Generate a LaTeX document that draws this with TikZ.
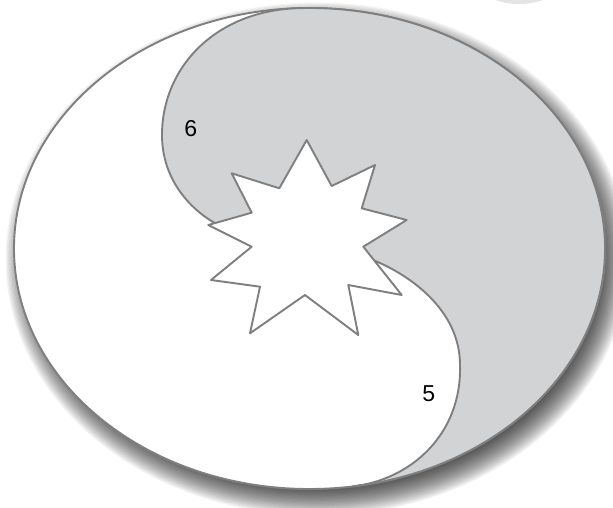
\documentclass[tikz,border=0pt]{standalone}
\usepackage{fontspec}
\setmainfont{Liberation Sans}
\definecolor{rimgray}{HTML}{7F7F80}
\definecolor{lobegray}{HTML}{D2D3D5}
\definecolor{ghostgray}{HTML}{E4E4E6}
\tikzset{
  rim/.style={draw=rimgray, line width=1.9pt, line join=round},
  numlabel/.style={font=\fontsize{23}{23}\selectfont, text=black, inner sep=0pt}
}
\begin{document}
\begin{tikzpicture}[x=1pt,y=1pt]
\useasboundingbox (0,0) rectangle (613,-507);
% partial light circle at top right
\fill[ghostgray] (519,70) circle[radius=74];
\coordinate (C) at (309.5,-248.5);
\coordinate (S) at (317,-259);
% soft shadow
\foreach \i in {0,...,24} {
  \fill[black, opacity=0.047] (S) ellipse[x radius={295.5+16-1.3*\i}, y radius={240.5+16-1.3*\i}];
}
% outer ellipse
\draw[rim, fill=white] (C) ellipse[x radius=295.5, y radius=240.5];
% gray lobe
\path (C) ++(91.84:295.5 and 240.5) coordinate (T);
\path[fill=lobegray] (T) arc[start angle=91.84, end angle=-81.6, x radius=295.5, y radius=240.5] coordinate (B)
  .. controls (410,-480) and (462,-435) .. (460,-365)
  .. controls (460,-310) and (410,-275) .. (373,-260)
  .. controls (330,-245) and (250,-240) .. (213,-222)
  .. controls (185,-205) and (162,-175) .. (162,-135)
  .. controls (162,-68) and (215,-10) .. (T) -- cycle;
\draw[rim] (B)
  .. controls (410,-480) and (462,-435) .. (460,-365)
  .. controls (460,-310) and (410,-275) .. (373,-260)
  .. controls (330,-245) and (250,-240) .. (213,-222)
  .. controls (185,-205) and (162,-175) .. (162,-135)
  .. controls (162,-68) and (215,-10) .. (T);
\draw[rim] (T) arc[start angle=91.84, end angle=-81.6, x radius=295.5, y radius=240.5];
% star
\draw[rim, fill=white] (306.7,-140) -- (331.7,-186) -- (375,-165) -- (361.7,-208.3)
  -- (406.7,-220) -- (363.3,-246.7) -- (401.7,-295) -- (348.3,-285)
  -- (358.3,-335) -- (305,-295) -- (250,-333.3) -- (260,-286.7)
  -- (211,-280) -- (251.7,-246.7) -- (208.3,-225) -- (251.7,-212.7)
  -- (231.7,-173.3) -- (279.3,-188.3) -- cycle;
% labels
\node[numlabel] (six) at (190.8,-128.5) {6};
\node[numlabel] (five) at (428.8,-393.5) {5};
\end{tikzpicture}
\end{document}
